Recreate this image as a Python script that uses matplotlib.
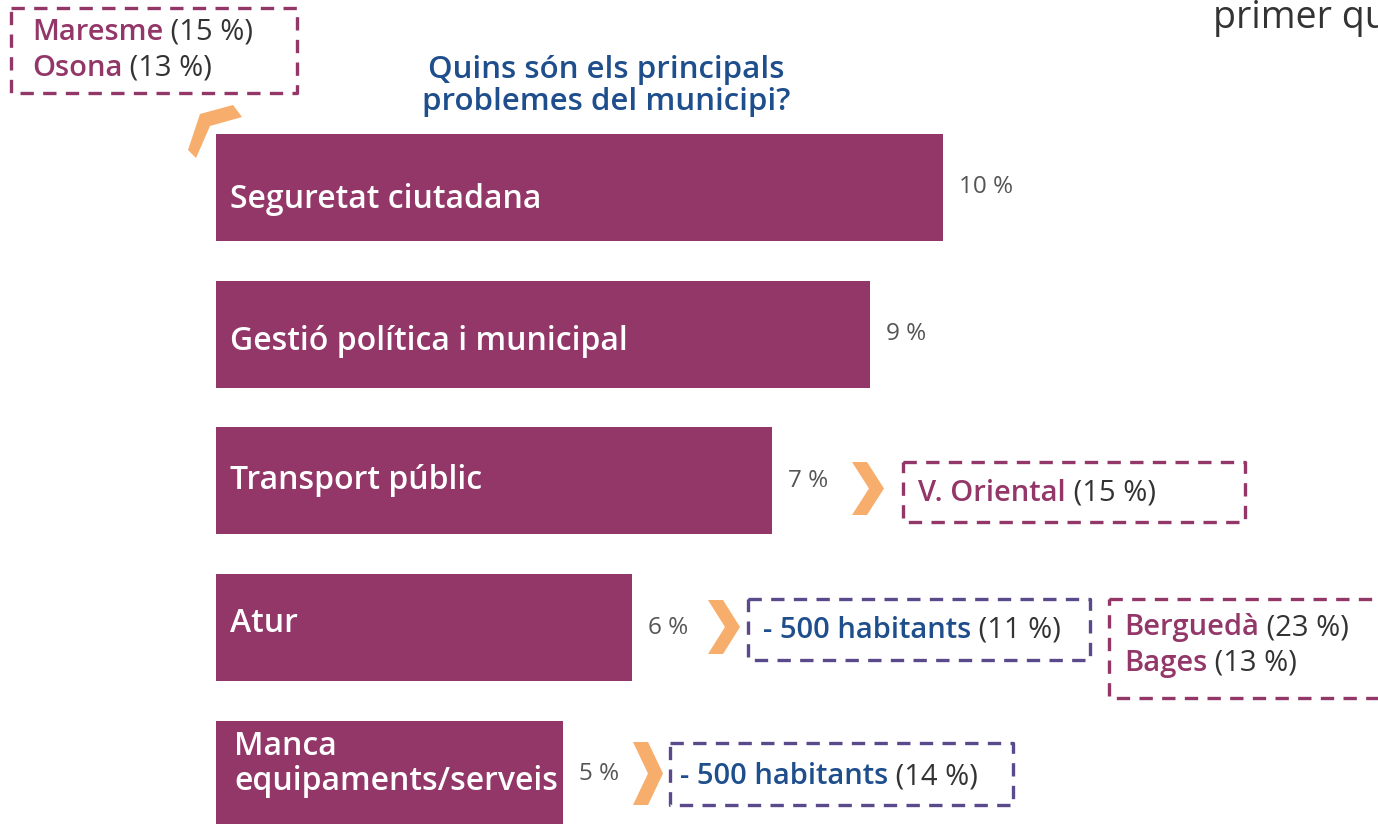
import matplotlib.pyplot as plt
from matplotlib.patches import Polygon, Rectangle

# Data
categories = ['Seguretat ciutadana', 'Gestió política i municipal', 'Transport públic',
              'Atur', 'Manca\nequipaments/serveis']
values = [10.0, 9.0, 7.65, 5.72, 4.77]
value_labels = ['10 %', '9 %', '7 %', '6 %', '5 %']
title = 'Quins són els principals\nproblemes del municipi?'

W, H = 1378, 824
bar_color = '#933668'
purple = '#933668'
violet = '#5a4a8c'
blue = '#1f4e8c'
orange = '#f7ad6b'
grey = '#333333'

plt.rcParams['font.family'] = ['Open Sans', 'DejaVu Sans']

fig = plt.figure(figsize=(W / 100, H / 100), dpi=100)

# bar axes: spans from pixel x=216 to the right edge
px_per_pct = 72.7
ax = fig.add_axes([216 / W, 0, 1 - 216 / W, 1])
ax.set_xlim(0, (W - 216) / px_per_pct)
row = 146.7
ax.set_ylim((H - 187.5) / row, -187.5 / row)
ax.axis('off')

ypos = list(range(len(categories)))
bars = ax.barh(ypos, values, height=0.73, color=bar_color)

label_shift = [0.08, 0.05, 0.0, -0.03, -0.07]
label_x = [0.19, 0.19, 0.19, 0.19, 0.25]
for b, cat, lab, dy, lx in zip(bars, categories, value_labels, label_shift, label_x):
    yc = b.get_y() + b.get_height() / 2
    ax.text(lx, yc + dy, cat, color='white', fontsize=23, fontweight='semibold',
            va='center', ha='left', linespacing=1.1)
    ax.text(b.get_width() + 0.22, yc, lab, color='#555555', fontsize=17.5, va='center', ha='left')

# overlay axes in pixel coordinates for annotations
ov = fig.add_axes([0, 0, 1, 1], zorder=5)
ov.set_xlim(0, W)
ov.set_ylim(H, 0)
ov.axis('off')
ov.patch.set_alpha(0)

fig.canvas.draw()
renderer = fig.canvas.get_renderer()


def two_part(x, y, first, second, c1, weight='semibold', size=21):
    t1 = ov.text(x, y, first, color=c1, fontsize=size, fontweight=weight, va='center', ha='left')
    bb = t1.get_window_extent(renderer=renderer)
    inv = ov.transData.inverted()
    x2 = inv.transform((bb.x1, 0))[0]
    ov.text(x2, y, ' ' + second, color=grey, fontsize=size, va='center', ha='left')


def dashed_box(x0, y0, x1, y1, color):
    ov.add_patch(Rectangle((x0, y0), x1 - x0, y1 - y0, fill=False, edgecolor=color,
                           linewidth=2.4, linestyle=(0, (4, 2.8)), joinstyle='round'))


def chevron(x, y0, y1, w=32, color=orange):
    ym = (y0 + y1) / 2
    d = 15
    pts = [(x, y0), (x + d, y0), (x + w, ym), (x + d, y1), (x, y1), (x + w - d, ym)]
    ov.add_patch(Polygon(pts, closed=True, color=color, lw=0))


# title
ov.text(606, 86, title, color=blue, fontsize=22.5, fontweight='semibold', ha='center', va='center',
        linespacing=1.05)
# text cut at the right edge, as in the source slide
ov.text(1213, 18, 'primer qu', color=grey, fontsize=27, ha='left', va='center')

# top-left box
dashed_box(11, 8, 297, 93, purple)
two_part(32, 32, 'Maresme', '(15 %)', purple)
two_part(32, 68, 'Osona', '(13 %)', purple)
ov.add_patch(Polygon([(188, 150), (200, 114), (233, 105), (242, 117), (210, 126), (196, 158)],
                     closed=True, color=orange, lw=0))

# Transport públic
chevron(852, 462, 515)
dashed_box(903, 462, 1245, 522, purple)
two_part(918, 493, 'V. Oriental', '(15 %)', purple)

# Atur
chevron(708, 600, 654)
dashed_box(748, 599, 1090, 660, violet)
two_part(763, 630, '- 500 habitants', '(11 %)', blue)
dashed_box(1109, 599, 1400, 698, purple)
two_part(1124, 628, 'Berguedà', '(23 %)', purple)
two_part(1124, 663, 'Bages', '(13 %)', purple)

# Manca equipaments
chevron(633, 742, 805, w=30)
dashed_box(670, 743, 1013, 805, violet)
two_part(680, 777, '- 500 habitants', '(14 %)', blue)

plt.savefig('out.png', dpi=100)
